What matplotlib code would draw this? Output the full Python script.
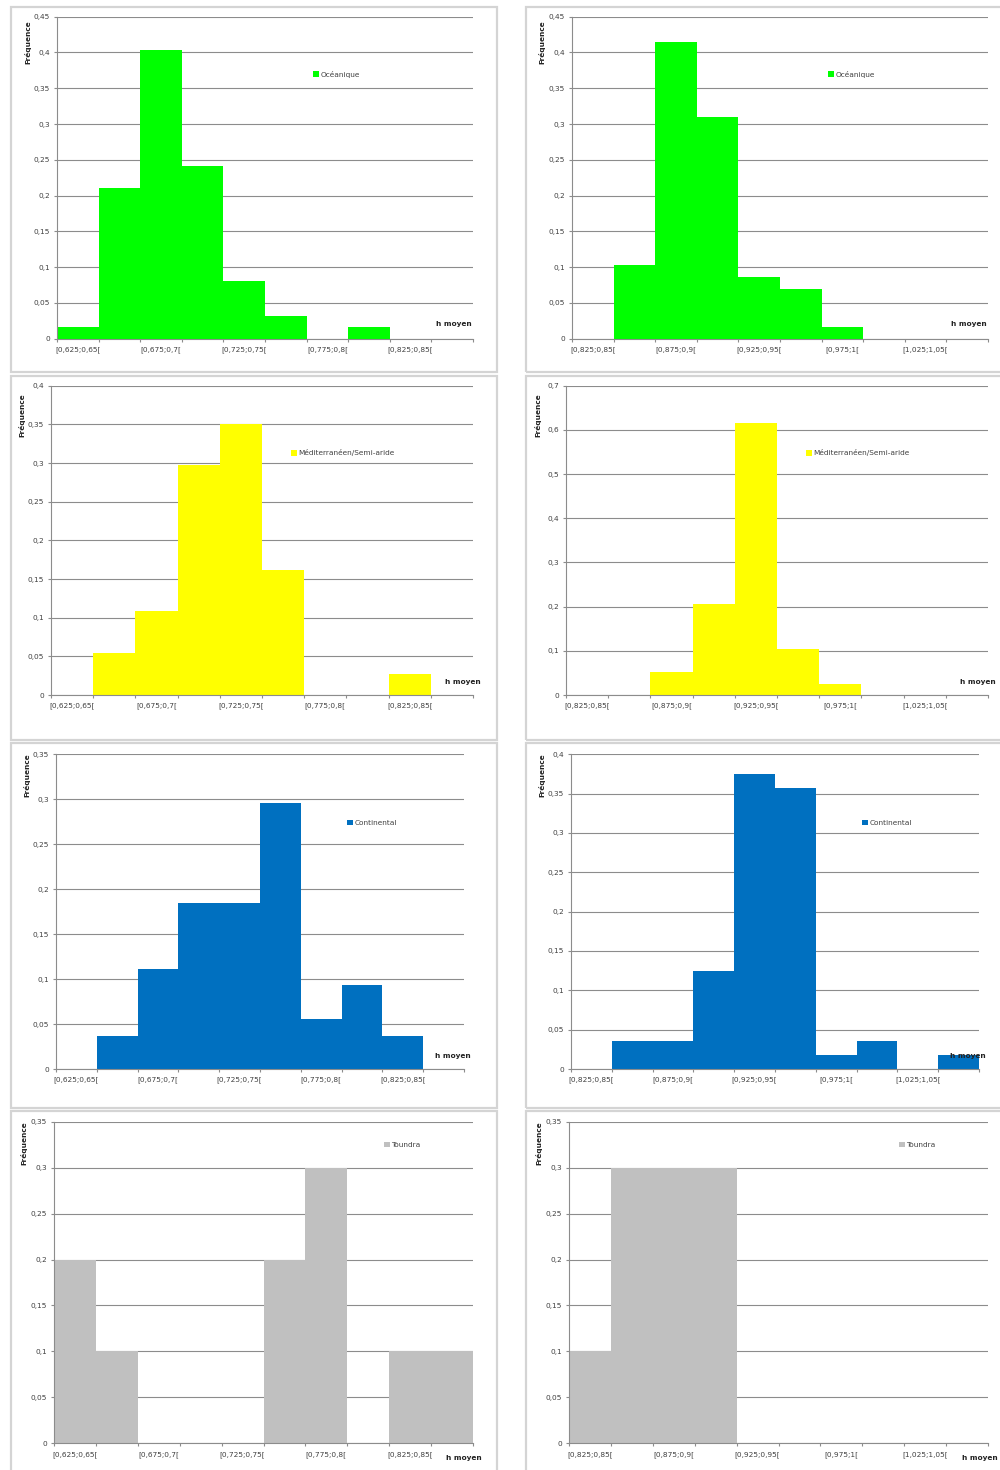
import matplotlib.pyplot as plt
from matplotlib.patches import Rectangle

W, H = 1000, 1470

labels_left = ["[0,625;0,65[", "[0,65;0,675[", "[0,675;0,7[", "[0,7;0,725[", "[0,725;0,75[",
               "[0,75;0,775[", "[0,775;0,8[", "[0,8;0,825[", "[0,825;0,85[", "[0,85;0,875["]
labels_right = ["[0,825;0,85[", "[0,85;0,875[", "[0,875;0,9[", "[0,9;0,925[", "[0,925;0,95[",
                "[0,95;0,975[", "[0,975;1[", "[1;1,025[", "[1,025;1,05[", "[1,05;1,075["]

oceanique_left = [0.016, 0.210, 0.403, 0.242, 0.081, 0.032, 0.0, 0.016, 0.0, 0.0]
oceanique_right = [0.0, 0.103, 0.414, 0.310, 0.086, 0.069, 0.017, 0.0, 0.0, 0.0]
medit_left = [0.0, 0.054, 0.108, 0.297, 0.351, 0.162, 0.0, 0.0, 0.027, 0.0]
medit_right = [0.0, 0.0, 0.051, 0.205, 0.615, 0.103, 0.026, 0.0, 0.0, 0.0]
conti_left = [0.0, 0.037, 0.111, 0.185, 0.185, 0.296, 0.056, 0.093, 0.037, 0.0]
conti_right = [0.0, 0.036, 0.036, 0.125, 0.375, 0.357, 0.018, 0.036, 0.0, 0.018]
toundra_left = [0.2, 0.1, 0.0, 0.0, 0.0, 0.2, 0.3, 0.0, 0.1, 0.1]
toundra_right = [0.1, 0.3, 0.3, 0.3, 0.0, 0.0, 0.0, 0.0, 0.0, 0.0]

climats = ["Océanique", "Méditerranéen/Semi-aride", "Continental", "Toundra"]
couleurs = ["#00FF00", "#FFFF00", "#0070C0", "#C0C0C0"]

FS = 5.3
TXT = "#404040"
GRID = "#8C8C8C"


def fmt(v):
    if abs(v) < 1e-9:
        return "0"
    return f"{v:g}".replace(".", ",")


def px_axes(fig, left, top, right, bottom):
    return fig.add_axes([left / W, 1 - bottom / H, (right - left) / W, (bottom - top) / H])


def draw_panel(fig, box, frame, values, labels, color, name, ymax, ystep, leg, hpos, fpos):
    # cadre gris autour du graphique
    fl, ft, fr, fb = frame
    fig.patches.append(Rectangle((fl / W, 1 - fb / H), (fr - fl) / W, (fb - ft) / H,
                                 transform=fig.transFigure, fill=False,
                                 edgecolor="#D4D4D4", linewidth=1.6))

    ax = px_axes(fig, *box)
    x = list(range(len(values)))
    ax.bar(x, values, width=1.0, color=color, edgecolor="none", linewidth=0,
           label=name, zorder=2)

    ax.set_xlim(-0.5, len(values) - 0.5)
    ax.set_ylim(0, ymax)
    n = int(round(ymax / ystep))
    yt = [i * ystep for i in range(n + 1)]
    ax.set_yticks(yt)
    ax.set_yticklabels([fmt(v) for v in yt])
    ax.yaxis.grid(True, color=GRID, linewidth=0.8, zorder=0)
    ax.set_axisbelow(True)

    ax.set_xticks(x[::2])
    ax.set_xticklabels(labels[::2])
    ax.set_xticks([i - 0.5 for i in range(len(values) + 1)], minor=True)
    ax.tick_params(axis="x", which="major", length=0, pad=5.5, labelsize=FS, labelcolor=TXT)
    ax.tick_params(axis="x", which="minor", length=2.5, color=GRID, width=0.8)
    ax.tick_params(axis="y", length=2.5, color=GRID, width=0.8, pad=2.5,
                   labelsize=FS, labelcolor=TXT)

    for s in ["top", "right"]:
        ax.spines[s].set_visible(False)
    for s in ["left", "bottom"]:
        ax.spines[s].set_color(GRID)
        ax.spines[s].set_linewidth(0.8)

    ax.legend(loc="center left", bbox_to_anchor=(leg[0] / W, 1 - leg[1] / H),
              bbox_transform=fig.transFigure, frameon=False, fontsize=FS,
              handlelength=0.75, handleheight=0.75, handletextpad=0.25,
              borderpad=0, borderaxespad=0, labelcolor=TXT)

    fig.text(hpos[0] / W, 1 - hpos[1] / H, "h moyen", ha="right", va="center",
             fontsize=FS, fontweight="bold", color="#222222")
    fig.text(fpos[0] / W, 1 - fpos[1] / H, "Fréquence", ha="center", va="center",
             rotation=90, fontsize=FS, fontweight="bold", color="#222222")


def main():
    fig = plt.figure(figsize=(W / 100, H / 100), dpi=100)
    fig.patch.set_facecolor("white")

    left_data = [oceanique_left, medit_left, conti_left, toundra_left]
    right_data = [oceanique_right, medit_right, conti_right, toundra_right]
    ymax_left = [0.45, 0.4, 0.35, 0.35]
    ymax_right = [0.45, 0.7, 0.4, 0.35]
    step_right = [0.05, 0.1, 0.05, 0.05]

    boxes_left = [(57, 16.7, 473, 338.7), (51, 385.7, 473, 695),
                  (56, 754.3, 464, 1069), (54, 1121.7, 473, 1443.3)]
    boxes_right = [(572, 16.7, 988, 338.7), (566, 385.7, 988, 695),
                   (571, 754.3, 979, 1069), (569, 1121.7, 988, 1443.3)]
    frames_y = [(7, 372), (376, 740), (743, 1108), (1111, 1480)]
    leg_left = [(313, 74), (291, 453), (347, 823), (384, 1145)]
    leg_right = [(828, 74), (806, 453), (862, 823), (899, 1145)]
    h_left = [(472, 324), (481, 682), (471, 1056), (482, 1458)]
    h_right = [(987, 324), (996, 682), (986, 1056), (998, 1458)]
    f_left = [(28, 42), (22, 415), (27, 775), (24, 1143)]
    f_right = [(542, 42), (538, 415), (542, 775), (539, 1143)]

    for i in range(4):
        ft, fb = frames_y[i]
        draw_panel(fig, boxes_left[i], (11, ft, 497, fb), left_data[i], labels_left,
                   couleurs[i], climats[i], ymax_left[i], 0.05,
                   leg_left[i], h_left[i], f_left[i])
        draw_panel(fig, boxes_right[i], (526, ft, 1010, fb), right_data[i], labels_right,
                   couleurs[i], climats[i], ymax_right[i], step_right[i],
                   leg_right[i], h_right[i], f_right[i])

    fig.savefig("out.png", dpi=100, facecolor="white")
    plt.close(fig)


if __name__ == "__main__":
    main()
